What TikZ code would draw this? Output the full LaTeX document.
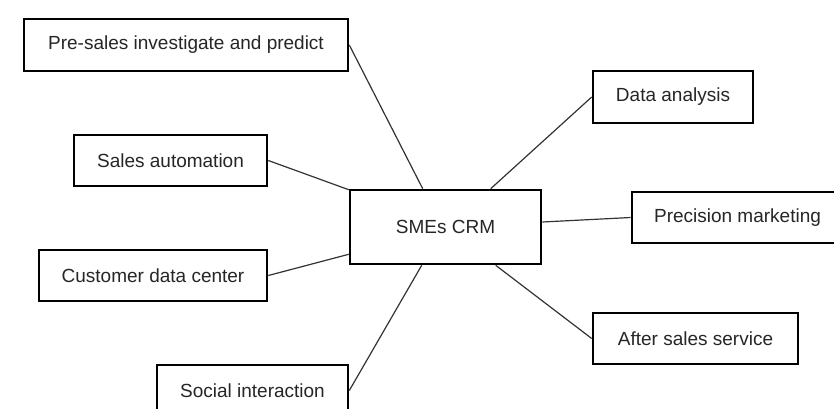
\documentclass[tikz,border=0pt]{standalone}
\usepackage{fontspec}
\setmainfont{Liberation Sans}
\usetikzlibrary{calc}
\tikzset{
  topic/.style={draw=black, line width=2.6pt, fill=white, inner sep=0pt,
    minimum height=51pt, font=\fontsize{19}{22}\selectfont, text=black!85},
  link/.style={draw=black!80, line width=1.2pt}
}
\begin{document}
\begin{tikzpicture}[x=1pt, y=-1pt]
  \useasboundingbox (0,0) rectangle (834,408);
  \clip (0,0) rectangle (834,408);
  \fill[white] (0,0) rectangle (834,408);

  % central topic
  \node[topic, minimum width=191pt, minimum height=74pt] (crm) at (445.5,227) {SMEs CRM};

  % left branches
  \node[topic, minimum width=324pt, minimum height=52pt] (pre) at (186,45) {Pre-sales investigate and predict};
  \node[topic, minimum width=193pt] (sales) at (170.5,160.5) {Sales automation};
  \node[topic, minimum width=228pt] (cust) at (153,275.5) {Customer data center};
  \node[topic, minimum width=191pt] (social) at (252.5,390.5) {Social interaction};

  % right branches
  \node[topic, minimum width=160pt, minimum height=52pt] (data) at (673,97) {Data analysis};
  \node[topic, minimum width=211pt] (prec) at (737.5,217.5) {Precision marketing};
  \node[topic, minimum width=205pt] (after) at (695.5,338.5) {After sales service};

  % connectors to the central topic
  \draw[link] (pre.east) -- ($(crm.north west)+(74,0)$);
  \draw[link] (sales.east) -- ($(crm.north west)+(0,1)$);
  \draw[link] (cust.east) -- ($(crm.south west)+(0,-11)$);
  \draw[link] (social.east) -- ($(crm.south west)+(73,0)$);
  \draw[link] (data.west) -- ($(crm.north west)+(142,0)$);
  \draw[link] (prec.west) -- ($(crm.east)+(0,-5)$);
  \draw[link] (after.west) -- ($(crm.south west)+(147,0)$);
\end{tikzpicture}
\end{document}
